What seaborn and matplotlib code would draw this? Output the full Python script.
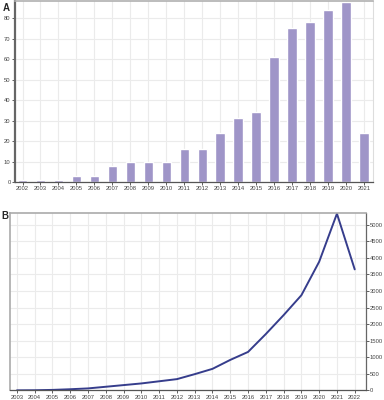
import pandas as pd
import seaborn as sns
import matplotlib.pyplot as plt

# panel A: publications per year
years_a = [str(y) for y in range(2002, 2022)]
pubs = [1, 1, 1, 3, 3, 8, 10, 10, 10, 16, 16, 24, 31, 34, 61, 75, 78, 84, 88, 24]

# panel B: citations per year
years_b = list(range(2003, 2023))
cites = [2, 5, 15, 35, 60, 110, 160, 210, 275, 340, 490, 650, 920, 1160,
         1700, 2270, 2870, 3880, 5330, 3650]

sns.set_style("whitegrid")
plt.rcParams['font.family'] = ['Liberation Sans', 'DejaVu Sans']

grid_c = '#ebebeb'
fig = plt.figure(figsize=(3.84, 4.0), dpi=100)

# ---- A ----
ax1 = fig.add_axes([0.039, 0.545, 0.932, 0.4525])
dfa = pd.DataFrame({'year': years_a, 'n': pubs})
sns.barplot(data=dfa, x='year', y='n', color='#9f95c8', saturation=1,
            width=0.52, ax=ax1)
ax1.set_xlim(-0.42, 19.5)
ax1.set_ylim(0, 88.3)
ax1.set_yticks(range(0, 90, 10))
ax1.set_xlabel('')
ax1.set_ylabel('')
ax1.grid(True, color=grid_c, lw=0.8)
ax1.set_axisbelow(True)
ax1.tick_params(labelsize=4.2, length=2, width=0.6, pad=1.2, colors='#444444',
                left=True, bottom=True)
ax1.spines['top'].set_color('#b0b0b0')
ax1.spines['top'].set_linewidth(1.2)
ax1.spines['right'].set_color('#dddddd')
ax1.spines['left'].set_color('#666666')
ax1.spines['left'].set_linewidth(1.6)
ax1.spines['bottom'].set_color('#555555')
ax1.spines['bottom'].set_linewidth(0.9)
fig.text(0.008, 0.992, 'A', fontsize=7, fontweight='bold', va='top', ha='left')

# ---- B ----
ax2 = fig.add_axes([0.026, 0.024, 0.926, 0.4435])
dfb = pd.DataFrame({'year': years_b, 'n': cites})
sns.lineplot(data=dfb, x='year', y='n', color='#363d8c', lw=1.4, ax=ax2)
ax2.set_xlim(2002.61, 2022.61)
ax2.set_ylim(0, 5350)
ax2.set_xticks(years_b)
ax2.set_xticklabels([str(y) for y in years_b])
ax2.set_yticks(range(0, 5001, 500))
ax2.yaxis.tick_right()
ax2.set_xlabel('')
ax2.set_ylabel('')
ax2.grid(True, color=grid_c, lw=0.8)
ax2.tick_params(labelsize=4.2, length=2, width=0.6, pad=1.0, colors='#444444',
                right=True, bottom=True)
for s in ['top', 'left']:
    ax2.spines[s].set_color('#aaaaaa')
    ax2.spines[s].set_linewidth(1.2)
ax2.spines['right'].set_color('#666666')
ax2.spines['right'].set_linewidth(0.9)
ax2.spines['bottom'].set_color('#555555')
ax2.spines['bottom'].set_linewidth(0.9)
fig.text(0.003, 0.472, 'B', fontsize=7, fontweight='bold', va='top', ha='left')

fig.savefig('out.png', dpi=100)
